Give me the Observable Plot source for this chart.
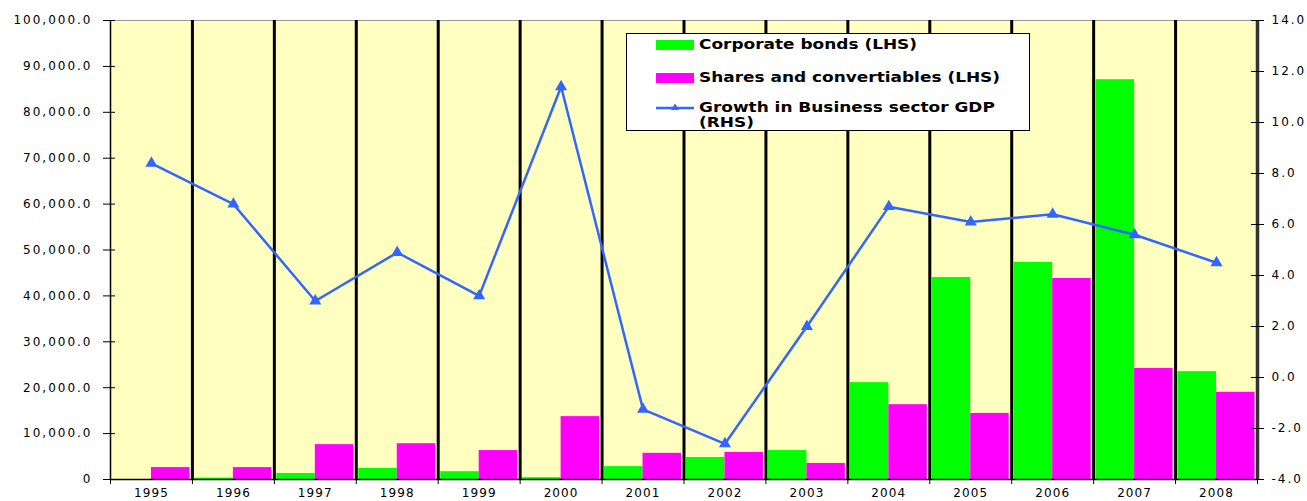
<!DOCTYPE html>
<html>
<head>
<meta charset="utf-8">
<script src="https://cdn.jsdelivr.net/npm/d3@7"></script>
<script src="https://cdn.jsdelivr.net/npm/@observablehq/plot@0.6"></script>
<style>
  html, body { margin: 0; padding: 0; background: white; }
  #wrap { position: relative; width: 1307px; height: 501px; }
  #wrap svg g[aria-label="y-axis tick label"] text { letter-spacing: 2px; }
  #wrap svg g[aria-label="x-axis tick label"] text { letter-spacing: 1.1px; }
  #legend {
    position: absolute; left: 626px; top: 33px; width: 402px; height: 96px;
    background: white; border: 1px solid black;
    font-family: "DejaVu Sans", sans-serif; font-weight: bold; font-size: 14px; color: black;
  }
  .item { position: absolute; left: 29px; display: flex; align-items: flex-start; }
  .sw { width: 38px; height: 10px; margin-right: 5px; margin-top: 3px; flex: none; }
  .txt { line-height: 15px; transform: scaleX(1.21); transform-origin: 0 0; white-space: nowrap; }
</style>
</head>
<body>
<div id="wrap"></div>
<script>
const years = ["1995","1996","1997","1998","1999","2000","2001","2002","2003","2004","2005","2006","2007","2008"];
const corporateBonds = [0, 300, 1300, 2400, 1700, 400, 2800, 4800, 6300, 21100, 44000, 47300, 87100, 23500];
const sharesConvertibles = [2600, 2600, 7600, 7800, 6300, 13700, 5700, 5900, 3500, 16300, 14400, 43800, 24200, 19000];
const businessGdpGrowth = [8.4, 6.8, 3.0, 4.9, 3.2, 11.4, -1.25, -2.6, 2.0, 6.7, 6.1, 6.4, 5.6, 4.5];
const leftTicks = [0, 10000, 20000, 30000, 40000, 50000, 60000, 70000, 80000, 90000, 100000];
const rightTicks = [-4, -2, 0, 2, 4, 6, 8, 10, 12, 14];
const seriesNames = ["Corporate bonds (LHS)", "Shares and convertiables (LHS)", "Growth in Business sector GDP (RHS)"];
const seriesColors = ["#00ff00", "#ff00ff", "#3366ff"];

const lMin = leftTicks[0], lMax = leftTicks[leftTicks.length - 1];
const rMin = rightTicks[0], rMax = rightTicks[rightTicks.length - 1];
const toLeft = v => lMin + (v - rMin) / (rMax - rMin) * (lMax - lMin);
const fromLeft = v => rMin + (v - lMin) / (lMax - lMin) * (rMax - rMin);

const rows = years.map((year, i) => ({
  year, i,
  bonds: corporateBonds[i],
  shares: sharesConvertibles[i],
  growth: businessGdpGrowth[i]
}));
const n = years.length;
const leftFmt = v => v === 0 ? "0" : d3.format(",.1f")(v);
const rightFmt = v => (Math.round(fromLeft(v) * 10) / 10 + 0).toFixed(1);
const blank = () => "";

const chart = Plot.plot({
  width: 1307, height: 501,
  marginTop: 20, marginBottom: 22, marginLeft: 110, marginRight: 50,
  style: { fontFamily: "DejaVu Sans, sans-serif", fontSize: "12px", color: "black", background: "white", overflow: "visible" },
  x: { domain: [0, n], axis: null },
  y: { domain: [lMin, lMax], axis: null },
  marks: [
    Plot.frame({ fill: "#ffffc0", stroke: null }),
    Plot.ruleY([lMax], { stroke: "#999", strokeWidth: 1 }),
    Plot.rectY(rows, { x1: d => d.i, x2: d => d.i + 0.5, y: "bonds", fill: seriesColors[0], insetLeft: 2.5 }),
    Plot.rectY(rows, { x1: d => d.i + 0.5, x2: d => d.i + 1, y: "shares", fill: seriesColors[1], insetRight: 2.5 }),
    Plot.ruleX(d3.range(1, n), { stroke: "black", strokeWidth: 3 }),
    Plot.ruleX([0], { stroke: "black", strokeWidth: 1.5 }),
    Plot.ruleX([n], { stroke: "#333", strokeWidth: 3.5 }),
    Plot.ruleY([lMin], { stroke: "black", strokeWidth: 1.5 }),
    Plot.line(rows, { x: d => d.i + 0.5, y: d => toLeft(d.growth), stroke: seriesColors[2], strokeWidth: 2.5 }),
    Plot.dot(rows, { x: d => d.i + 0.5, y: d => toLeft(d.growth), symbol: "triangle", fill: seriesColors[2], stroke: seriesColors[2], r: 3.5 }),
    Plot.axisY(leftTicks, { anchor: "left", tickSize: 7, tickPadding: 11, tickFormat: leftFmt, label: null }),
    Plot.axisY(leftTicks, { anchor: "left", tickSize: -5, tickFormat: blank, label: null }),
    Plot.axisY(rightTicks.map(toLeft), { anchor: "right", tickSize: 6, tickPadding: 8, tickFormat: rightFmt, label: null }),
    Plot.axisY(rightTicks.map(toLeft), { anchor: "right", tickSize: -7, tickFormat: blank, label: null }),
    Plot.axisX(d3.range(0, n + 1), { anchor: "bottom", tickSize: 5, tickFormat: blank, label: null }),
    Plot.axisX(rows.map(d => d.i + 0.5), { anchor: "bottom", tickSize: 0, tickPadding: 9, tickFormat: v => years[Math.floor(v)], label: null })
  ]
});

const wrap = document.getElementById("wrap");
wrap.appendChild(chart);

const legend = document.createElement("div");
legend.id = "legend";
const tops = [3, 36, 66];
seriesNames.forEach((name, k) => {
  const item = document.createElement("div");
  item.className = "item";
  item.style.top = tops[k] + "px";
  let sw;
  if (k < 2) {
    sw = `<div class="sw" style="background:${seriesColors[k]}"></div>`;
  } else {
    sw = `<svg width="38" height="14" style="margin-right:5px;flex:none"><line x1="0" y1="8" x2="38" y2="8" stroke="${seriesColors[k]}" stroke-width="2.5"/><path d="M19,3.5 L23,10 L15,10 Z" fill="${seriesColors[k]}"/></svg>`;
  }
  const label = k < 2 ? name : name.replace(" (RHS)", "<br>(RHS)");
  item.innerHTML = sw + `<div class="txt">${label}</div>`;
  legend.appendChild(item);
});
wrap.appendChild(legend);
</script>
</body>
</html>
